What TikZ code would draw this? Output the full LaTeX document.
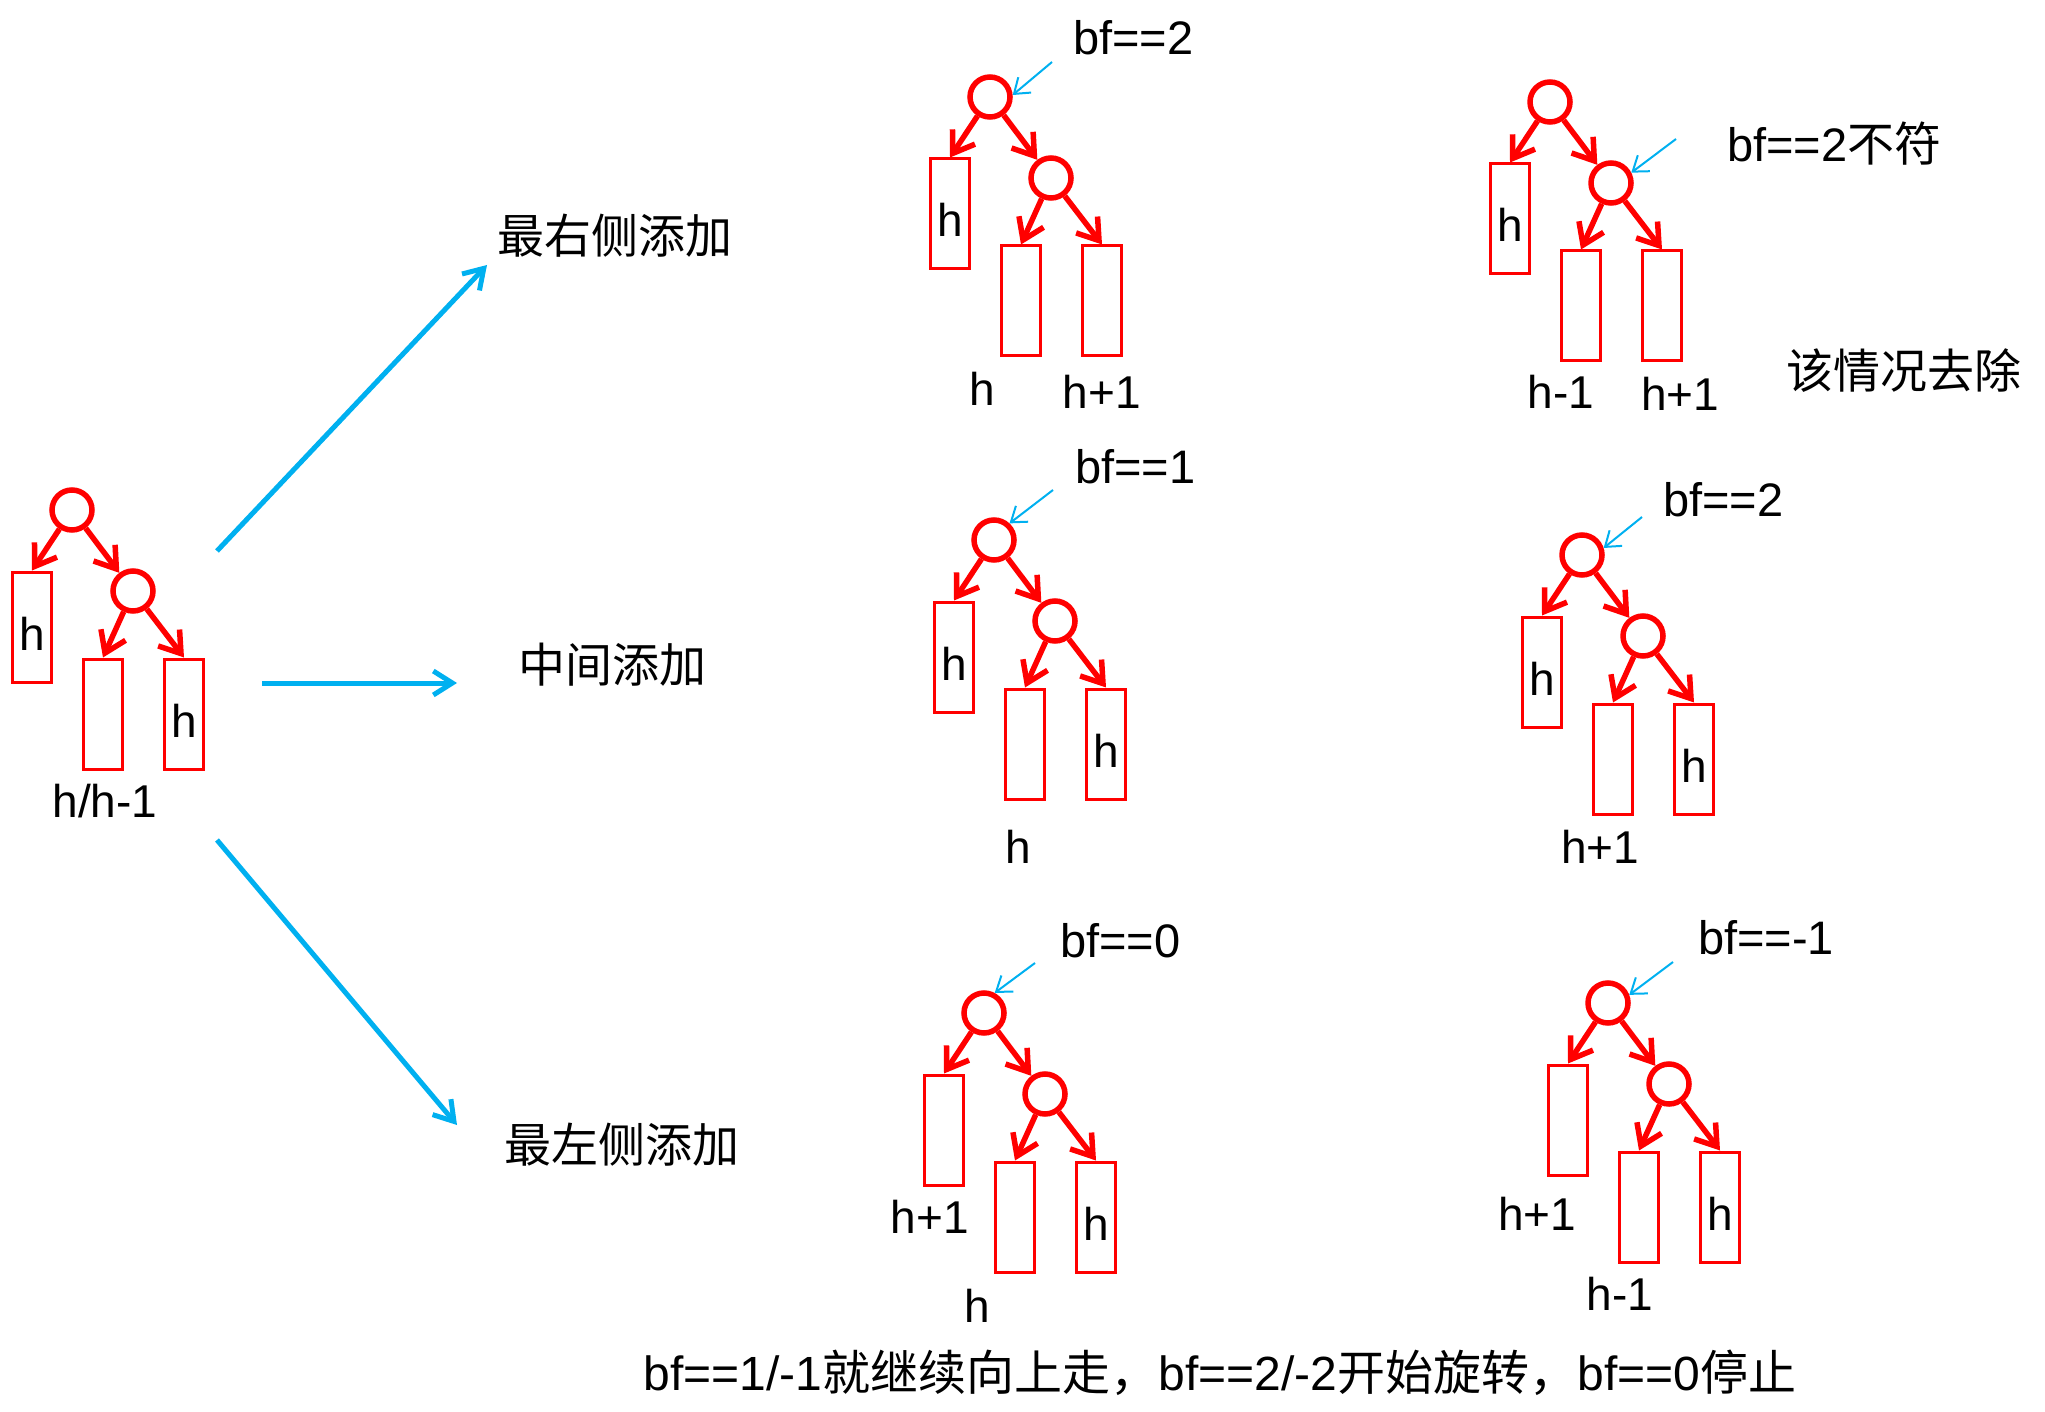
\documentclass[tikz,border=0pt]{standalone}
\usepackage{fontspec}
\setmainfont{Liberation Sans}
\newfontfamily\cjk{Noto Sans CJK SC}
\usetikzlibrary{arrows.meta}
\definecolor{sky}{HTML}{00B0F0}
\tikzset{
  nd/.style={circle, draw=red, line width=5.5pt, minimum size=40pt, inner sep=0pt},
  bx/.style={rectangle, draw=red, line width=3pt, minimum width=39pt, minimum height=110pt, inner sep=0pt},
  redarrow/.style={draw=red, line width=5.5pt, -{Straight Barb[length=20pt,width=27pt]}},
  bigarrow/.style={draw=sky, line width=5pt, -{Straight Barb[length=19pt,width=24pt]}},
  thinarrow/.style={draw=sky, line width=2pt, -{Straight Barb[length=14pt,width=20pt]}},
  txt/.style={font=\fontsize{46}{50}\selectfont, inner sep=0pt, anchor=base},
  notetxt/.style={font=\fontsize{48}{52}\selectfont, inner sep=0pt, anchor=base},
  bftxt/.style={font=\fontsize{47}{50}\selectfont, inner sep=0pt, anchor=base west},
  cjktxt/.style={font=\cjk\fontsize{47}{50}\selectfont, inner sep=0pt}
}
\newcommand\avltree[2]{%
  \begin{scope}[shift={#2}]
    \node[nd] (#1r) at (0,0) {};
    \node[nd] (#1c) at (61,81) {};
    \node[bx] (#1l) at (-40,117) {};
    \node[bx] (#1a) at (31,204) {};
    \node[bx] (#1b) at (112,204) {};
    \draw[redarrow] (#1r) -- (#1l.north);
    \draw[redarrow] (#1r) -- (#1c);
    \draw[redarrow] (#1c) -- (#1a.north);
    \draw[redarrow] (#1c) -- (#1b.north);
  \end{scope}}
\newcommand\inbox[2]{\node[txt] (#1h) at ([yshift=-23pt]#1.center) {#2};}
\begin{document}
\begin{tikzpicture}[x=1pt,y=-1pt]
\useasboundingbox (0,0) rectangle (2045,1412);

% trees
\avltree{s}{(72,510)}
\avltree{a}{(990,97)}
\avltree{b}{(994,540)}
\avltree{c}{(1582,555)}
\avltree{d}{(1550,102)}
\avltree{e}{(984,1013)}
\avltree{f}{(1608,1003)}

% h inside boxes
\inbox{sl}{h}\inbox{sb}{h}
\inbox{al}{h}
\inbox{bl}{h}\inbox{bb}{h}
\inbox{cl}{h}\inbox{cb}{h}
\inbox{dl}{h}
\inbox{eb}{h}
\inbox{fb}{h}

% labels under trees
\node[txt] (slab) at (105,817) {h/h-1};
\node[txt] (alab1) at (982,406) {h};
\node[txt] (alab2) at (1102,408) {h+1};
\node[txt] (blab) at (1018,863) {h};
\node[txt] (clab) at (1600,863) {h+1};
\node[txt] (dlab1) at (1561,409) {h-1};
\node[txt] (dlab2) at (1680,410) {h+1};
\node[txt] (elab1) at (930,1233) {h+1};
\node[txt] (elab2) at (977,1322) {h};
\node[txt] (flab1) at (1537,1230) {h+1};
\node[txt] (flab2) at (1620,1310) {h-1};

% bf labels
\node[bftxt] (abf) at (1073,55) {bf==2};
\node[bftxt] (bbf) at (1075,483) {bf==1};
\node[bftxt] (cbf) at (1663,516) {bf==2};
\node[bftxt] (dbf) at (1727,162) {bf==2{\cjk 不符}};
\node[bftxt] (ebf) at (1060,957) {bf==0};
\node[bftxt] (fbf) at (1698,954) {bf==-1};

% thin blue pointers
\coordinate (ap) at (1052,62);
\coordinate (bp) at (1053,490);
\coordinate (cp) at (1642,517);
\coordinate (dp) at (1676,139);
\coordinate (ep) at (1035,963);
\coordinate (fp) at (1673,962);
\draw[thinarrow] (ap) -- (ar.5);
\draw[thinarrow] (bp) -- (br.47);
\draw[thinarrow] (cp) -- (cr.18);
\draw[thinarrow] (dp) -- (dc.27);
\draw[thinarrow] (ep) -- (er.62);
\draw[thinarrow] (fp) -- (fr.21);

% case labels
\node[cjktxt] (top) at (615,236) {最右侧添加};
\node[cjktxt] (mid) at (612,665) {中间添加};
\node[cjktxt] (bot) at (622,1145) {最左侧添加};
\node[cjktxt] (drop) at (1904,371) {该情况去除};

% big blue arrows
\coordinate (t0) at (217,551);
\coordinate (t1) at (487,265);
\coordinate (m0) at (262,683);
\coordinate (m1) at (457,683);
\coordinate (b0) at (217,840);
\coordinate (b1) at (457,1125);
\draw[bigarrow] (t0) -- (t1);
\draw[bigarrow] (m0) -- (m1);
\draw[bigarrow] (b0) -- (b1);

% bottom note
\node[notetxt] (note) at (1220,1390) {bf==1/-1{\cjk 就继续向上走，}bf==2/-2{\cjk 开始旋转，}bf==0{\cjk 停止}};
\end{tikzpicture}
\end{document}
